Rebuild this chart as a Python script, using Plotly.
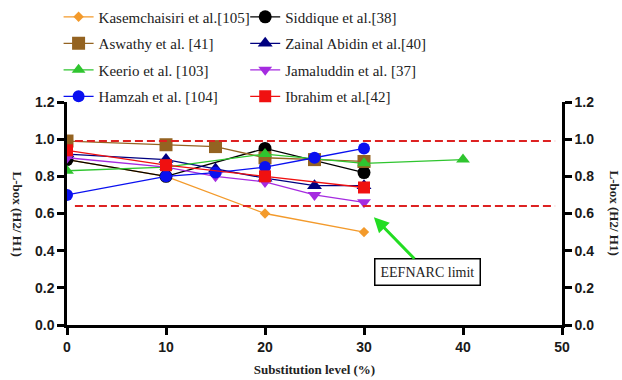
import plotly.graph_objects as go

# ---- data ----
names = ["Kasemchaisiri et al.[105]", "Siddique et al.[38]",
         "Aswathy et al. [41]", "Zainal Abidin et al.[40]",
         "Keerio et al. [103]", "Jamaluddin et al. [37]",
         "Hamzah et al. [104]", "Ibrahim et al.[42]"]

kas_x = [0, 10, 20, 30];            kas_y = [0.89, 0.80, 0.60, 0.50]
sid_x = [0, 10, 20, 30];            sid_y = [0.89, 0.80, 0.95, 0.82]
asw_x = [0, 10, 15, 20, 25, 30];    asw_y = [0.99, 0.97, 0.96, 0.90, 0.89, 0.88]
zai_x = [0, 10, 15, 20, 25, 30];    zai_y = [0.92, 0.89, 0.84, 0.79, 0.75, 0.75]
kee_x = [0, 10, 20, 30, 40];        kee_y = [0.83, 0.85, 0.92, 0.87, 0.89]
jam_x = [0, 10, 15, 20, 25, 30];    jam_y = [0.90, 0.85, 0.80, 0.77, 0.70, 0.66]
ham_x = [0, 10, 15, 20, 25, 30];    ham_y = [0.70, 0.80, 0.82, 0.85, 0.90, 0.95]
ibr_x = [0, 10, 20, 30];            ibr_y = [0.94, 0.86, 0.80, 0.74]

limits = [0.99, 0.64]
x_ticks = [0, 10, 20, 30, 40, 50]
y_ticks = [0.0, 0.2, 0.4, 0.6, 0.8, 1.0, 1.2]

# (name, x, y, colour, symbol, size, legend)
series = [
    (names[0], kas_x, kas_y, "#F39A2B", "diamond", 8, "legend"),
    (names[1], sid_x, sid_y, "#000000", "circle", 13, "legend2"),
    (names[2], asw_x, asw_y, "#946321", "square", 13, "legend"),
    (names[3], zai_x, zai_y, "#000080", "triangle-up", 13, "legend2"),
    (names[4], kee_x, kee_y, "#2FC52F", "triangle-up", 12, "legend"),
    (names[5], jam_x, jam_y, "#A52BE0", "triangle-down", 12, "legend2"),
    (names[6], ham_x, ham_y, "#0A10F0", "circle", 12, "legend"),
    (names[7], ibr_x, ibr_y, "#F01010", "square", 12, "legend2"),
]

fig = go.Figure()
for i, (name, xs, ys, col, sym, sz, lg) in enumerate(series):
    fig.add_trace(go.Scatter(
        x=xs, y=ys, name=name, mode="lines+markers", legend=lg,
        legendgroup="g%d" % i,
        line=dict(color=col, width=1.3),
        marker=dict(color=col, symbol=sym, size=sz, line=dict(width=0)),
    ))

# invisible trace to activate the right axis
fig.add_trace(go.Scatter(x=[None], y=[None], yaxis="y2", showlegend=False,
                         hoverinfo="skip"))

for v in limits:
    fig.add_shape(type="line", xref="x", yref="y", x0=0.8, x1=49.3, y0=v, y1=v,
                  line=dict(color="#DD2222", width=2, dash="8px,4px"))

serif = "Liberation Serif"
sans = "Liberation Sans"
tickfont = dict(family=sans, size=14, color="#1a1a1a", weight="bold")
legfont = dict(family=serif, size=15, color="#222222")

axis_common = dict(showline=True, linecolor="black", linewidth=2.5, ticks="outside",
                   ticklen=7, tickwidth=2.5, tickcolor="black", showgrid=False,
                   zeroline=False, tickfont=tickfont)

fig.update_layout(
    width=622, height=380,
    margin=dict(l=67, r=60, t=102, b=55, autoexpand=False),
    plot_bgcolor="white", paper_bgcolor="white",
    showlegend=True,
    legend=dict(orientation="v", x=-0.017, y=1.455, xanchor="left", yanchor="top",
                font=legfont, bgcolor="rgba(0,0,0,0)", tracegroupgap=4),
    legend2=dict(orientation="v", x=0.36, y=1.455, xanchor="left", yanchor="top",
                 font=legfont, bgcolor="rgba(0,0,0,0)", tracegroupgap=4),
    xaxis=dict(range=[0, 50], tickvals=x_ticks,
               title=dict(text="<b>Substitution level (%)</b>",
                          font=dict(family=serif, size=13, color="#222222"), standoff=12),
               **axis_common),
    yaxis=dict(range=[0, 1.2], tickvals=y_ticks, tickformat=".1f", **axis_common),
    yaxis2=dict(range=[0, 1.2], tickvals=y_ticks, tickformat=".1f", overlaying="y",
                side="right", anchor="x", **axis_common),
)

# axis titles rotated clockwise
for xp in [-0.101, 1.107]:
    fig.add_annotation(text="<b>L-box (H2/ H1)</b>", xref="paper", yref="paper",
                       x=xp, y=0.5, xanchor="center", yanchor="middle",
                       textangle=90, showarrow=False,
                       font=dict(family=serif, size=13, color="#222222"))

fig.add_annotation(text="EEFNARC limit", xref="x", yref="y", x=31.0, y=0.58,
                   axref="x", ayref="y", ax=36.4, ay=0.285,
                   showarrow=True, arrowhead=2, arrowsize=1, arrowwidth=3,
                   arrowcolor="#22DD22", bordercolor="black", borderwidth=1.5,
                   borderpad=5, bgcolor="white",
                   font=dict(family=serif, size=14, color="#222222"))

fig.write_html("out.html")
